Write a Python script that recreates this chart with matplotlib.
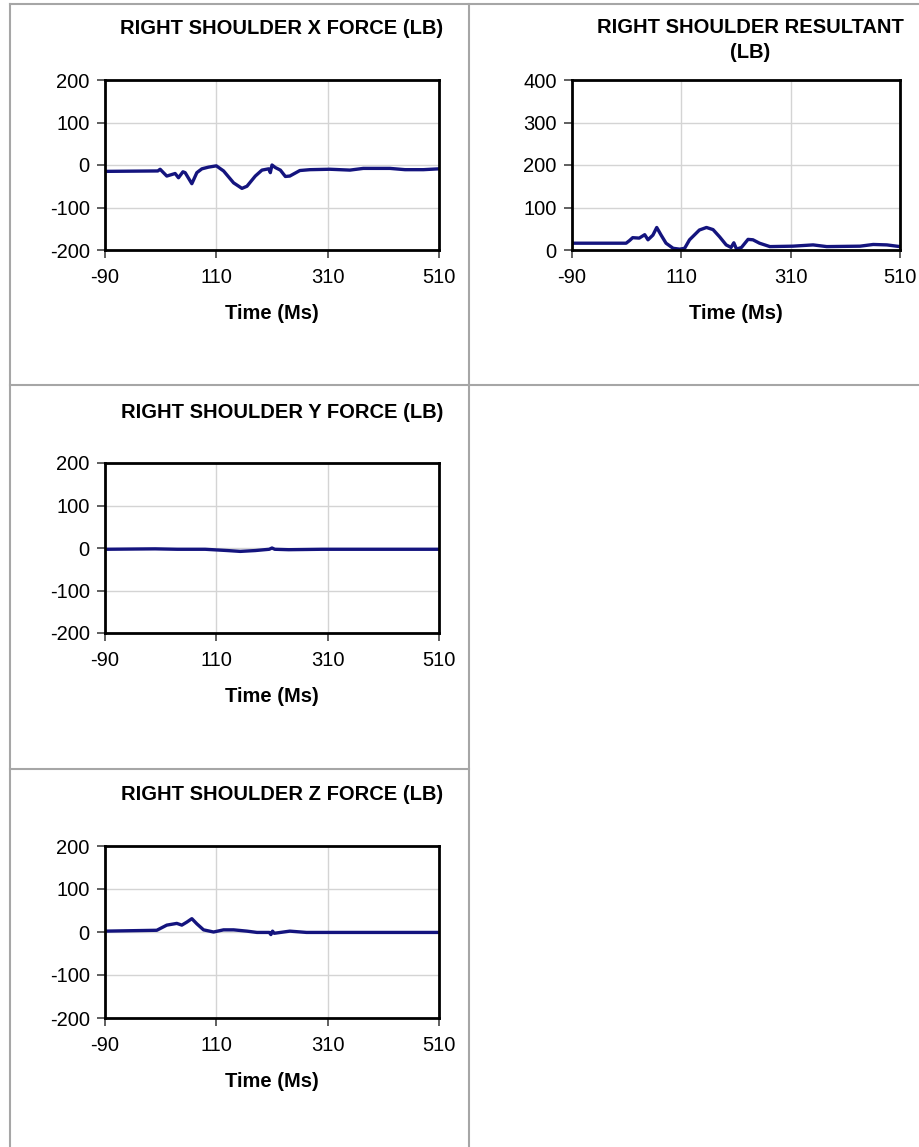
import numpy as np
import matplotlib
matplotlib.use("Agg")
import matplotlib.pyplot as plt
from matplotlib.lines import Line2D

plt.rcParams['font.family'] = ['Liberation Sans', 'DejaVu Sans']
plt.rcParams['axes.unicode_minus'] = False

W, H = 919, 1147
LINE_COLOR = "#14147e"

# time axis ticks (ms)
x_ticks = [-90, 110, 310, 510]

# right shoulder X force (lb)
x_force_t = [-90, 5, 9, 21, 36, 42, 50, 54, 66, 75, 84, 96, 110, 123, 141, 156, 165,
             180, 192, 204, 207, 210, 216, 225, 234, 242, 260, 278, 314, 350, 374,
             422, 449, 482, 510]
x_force_v = [-15, -14, -10, -26, -20, -30, -16, -18, -44, -18, -9, -5, -2, -14, -42,
             -55, -50, -26, -12, -9, -18, 0, -6, -12, -27, -26, -13, -11, -10, -12,
             -8, -8, -11, -11, -9]

# right shoulder resultant (lb)
res_t = [-90, 9, 15, 21, 33, 43, 49, 58, 65, 73, 82, 95, 107, 116, 125, 143, 156,
         168, 180, 192, 201, 206, 211, 220, 232, 241, 253, 272, 314, 351, 376, 437,
         461, 486, 510]
res_v = [16, 16, 22, 29, 28, 36, 24, 35, 53, 35, 16, 4, 2, 4, 24, 47, 53, 48, 31,
         12, 6, 17, 2, 6, 25, 24, 16, 8, 9, 12, 8, 9, 13, 12, 8]

# right shoulder Y force (lb)
y_force_t = [-90, 0, 40, 90, 130, 153, 180, 205, 210, 215, 240, 300, 400, 510]
y_force_v = [-3, -2, -3, -3, -6, -8, -6, -3, 0, -3, -4, -3, -3, -3]

# right shoulder Z force (lb)
z_force_t = [-90, 3, 21, 39, 48, 57, 66, 75, 87, 105, 123, 141, 165, 183, 205, 208,
             211, 214, 242, 272, 400, 510]
z_force_v = [2, 4, 16, 20, 16, 23, 31, 19, 5, 0, 5, 5, 2, -1, -1, -6, 2, -3, 2, -1,
             -1, -1]


def fig_rect(left, top, right, bottom):
    return [left / W, 1 - bottom / H, (right - left) / W, (bottom - top) / H]


def draw_panel(fig, rect, t, v, ylim, yticks):
    ax = fig.add_axes(rect)
    ax.plot(t, v, color=LINE_COLOR, lw=2.4, solid_joinstyle="round")
    ax.set_xlim(-90, 510)
    ax.set_ylim(*ylim)
    ax.set_xticks(x_ticks)
    ax.set_yticks(yticks)
    ax.tick_params(labelsize=14.5, length=6, width=1.2, color="#444444",
                   direction="out", pad=5)
    ax.tick_params(axis="x", pad=7)
    for x in x_ticks[1:-1]:
        ax.axvline(x, color="#d4d4d4", lw=1.0, zorder=0)
    for y in yticks[1:-1]:
        ax.axhline(y, color="#d4d4d4", lw=1.0, zorder=0)
    for s in ax.spines.values():
        s.set_linewidth(2.0)
        s.set_color("black")
    ax.set_xlabel("Time (Ms)", fontsize=14.5, fontweight="bold", labelpad=12)
    return ax


def title(fig, text, cx, cy):
    fig.text(cx / W, 1 - cy / H, text, ha="center", va="center",
             fontsize=14.5, fontweight="bold", linespacing=1.4)


fig = plt.figure(figsize=(W / 100, H / 100), dpi=100)

# table cell borders
border = dict(color="#a6a6a6", lw=1.5)
segments = [
    ((10, 4), (10, 1147)),
    ((469, 4), (469, 1147)),
    ((10, 4), (919, 4)),
    ((10, 385), (919, 385)),
    ((10, 769), (469, 769)),
]
for (x0, y0), (x1, y1) in segments:
    fig.add_artist(Line2D([x0 / W, x1 / W], [1 - y0 / H, 1 - y1 / H], **border))

draw_panel(fig, fig_rect(105, 80, 439, 250), x_force_t, x_force_v,
           (-200, 200), [-200, -100, 0, 100, 200])
title(fig, "RIGHT SHOULDER X FORCE (LB)", 282, 28)

draw_panel(fig, fig_rect(572, 80, 900, 250), res_t, res_v,
           (0, 400), [0, 100, 200, 300, 400])
title(fig, "RIGHT SHOULDER RESULTANT\n(LB)", 750, 40)

draw_panel(fig, fig_rect(105, 463, 439, 633), y_force_t, y_force_v,
           (-200, 200), [-200, -100, 0, 100, 200])
title(fig, "RIGHT SHOULDER Y FORCE (LB)", 282, 412)

draw_panel(fig, fig_rect(105, 846, 439, 1018), z_force_t, z_force_v,
           (-200, 200), [-200, -100, 0, 100, 200])
title(fig, "RIGHT SHOULDER Z FORCE (LB)", 282, 794)

fig.savefig("out.png", dpi=100)
